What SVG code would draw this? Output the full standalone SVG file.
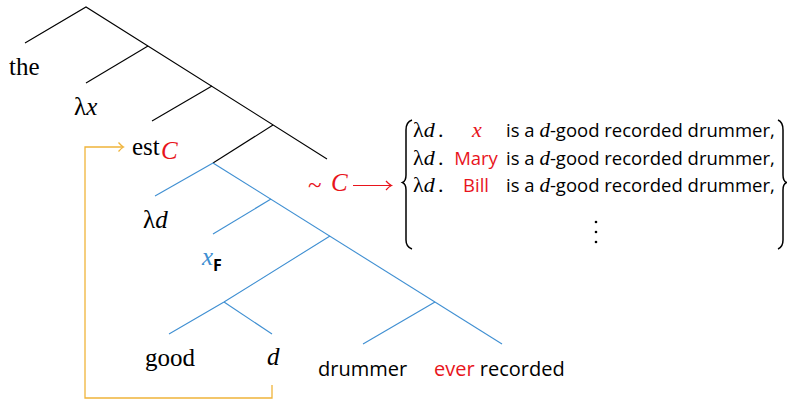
<svg xmlns="http://www.w3.org/2000/svg" width="787" height="400" viewBox="0 0 787 400">
<style>
.blk{stroke:#000;stroke-width:1.1;fill:none}
.blu{stroke:#3f8fd2;stroke-width:1.1;fill:none}
.ylw{stroke:#f0b43a;stroke-width:1.3;fill:none}
.red-s{stroke:#e8141c;stroke-width:1.2;fill:none}
.ser{font-family:"Liberation Serif",serif;font-size:25px;fill:#000}
.it{font-style:italic}
.sans{font-family:"Open Sans",sans-serif;font-size:20px;fill:#000}
.rs{font-family:"Open Sans",sans-serif;font-size:18.5px;fill:#000}
.rser{font-family:"Liberation Serif",serif;font-size:22px;fill:#000}
.red{fill:#e8141c}
.bl{fill:#3f8fd2}
.brace{stroke:#000;stroke-width:1.5;fill:none}
</style>
<g id="connectors">
<path class="blk" d="M25,43 L86,7 L327,159"/>
<path class="blk" d="M148,46 L86,83"/>
<path class="blk" d="M212,86 L152,121"/>
<path class="blk" d="M273,125 L213,163"/>
<path class="blu" d="M213,163 L155,196"/>
<path class="blu" d="M213,163 L502,344"/>
<path class="blu" d="M271,199 L213,234"/>
<path class="blu" d="M330,236 L224,302 L169,334"/>
<path class="blu" d="M224,302 L272,334"/>
<path class="blu" d="M435,302 L363,344"/>
<path class="ylw" d="M272,385 L272,398 L85,398 L85,147 L123,147"/>
<path class="ylw" d="M118.5,142.5 Q121.5,146 123.5,147 Q121.5,148 118.5,151.5"/>
<path class="red-s" d="M353,185.5 L391,185.5"/>
<path class="red-s" d="M386,181 Q389,184.5 391.5,185.5 Q389,186.5 386,190"/>
</g>
<g id="n-the"><text class="ser" x="9" y="75">the</text></g>
<g id="n-lx"><text class="ser" x="74" y="115">λ<tspan class="it">x</tspan></text></g>
<g id="n-est"><text class="ser" x="132" y="155">est</text><text class="ser it red" x="161" y="159" font-size="16">C</text></g>
<g id="n-ld"><text class="ser" x="143" y="228">λ<tspan class="it">d</tspan></text></g>
<g id="n-xF"><text class="ser it bl" x="202" y="265">x</text><text x="213" y="271" style="font-family:'Open Sans',sans-serif;font-size:16px;font-weight:bold;fill:#000">F</text></g>
<g id="n-good"><text class="ser" x="145" y="366">good</text></g>
<g id="n-d"><text class="ser it" x="267" y="365">d</text></g>
<g id="n-drummer"><text class="sans" x="318" y="376">drummer</text></g>
<g id="n-ever"><text class="sans" x="434" y="376"><tspan class="red">ever</tspan> recorded</text></g>
<g id="n-C"><text class="ser red" x="308" y="193" font-size="24">~</text><text class="ser it red" x="331" y="191" font-size="23">C</text></g>
<g id="n-set">
<path class="brace" d="M412,120 Q406,122 406,130 L406,175 Q406,181 402.5,182.5 Q406,184 406,190 L406,240 Q406,247 412,249"/>
<path class="brace" d="M778,120 Q783,122 783,130 L783,175 Q783,181 786.5,182.5 Q783,184 783,190 L783,240 Q783,247 778,249"/>
<text class="rser" x="413" y="137">λ<tspan class="it">d</tspan></text><text class="rser" x="438" y="137">.</text>
<text class="rser it red" x="477" y="137" text-anchor="middle">x</text>
<text class="rs" x="506" y="137">is a <tspan class="it" style="font-family:'Liberation Serif',serif;font-size:21px">d</tspan>-good recorded drummer,</text>
<text class="rser" x="413" y="165">λ<tspan class="it">d</tspan></text><text class="rser" x="438" y="165">.</text>
<text class="rs red" x="476" y="165" text-anchor="middle">Mary</text>
<text class="rs" x="506" y="165">is a <tspan class="it" style="font-family:'Liberation Serif',serif;font-size:21px">d</tspan>-good recorded drummer,</text>
<text class="rser" x="413" y="192">λ<tspan class="it">d</tspan></text><text class="rser" x="438" y="192">.</text>
<text class="rs red" x="476" y="192" text-anchor="middle">Bill</text>
<text class="rs" x="506" y="192">is a <tspan class="it" style="font-family:'Liberation Serif',serif;font-size:21px">d</tspan>-good recorded drummer,</text>
<circle cx="596" cy="222" r="1.3"/><circle cx="596" cy="232" r="1.3"/><circle cx="596" cy="242" r="1.3"/>
</g>
</svg>
